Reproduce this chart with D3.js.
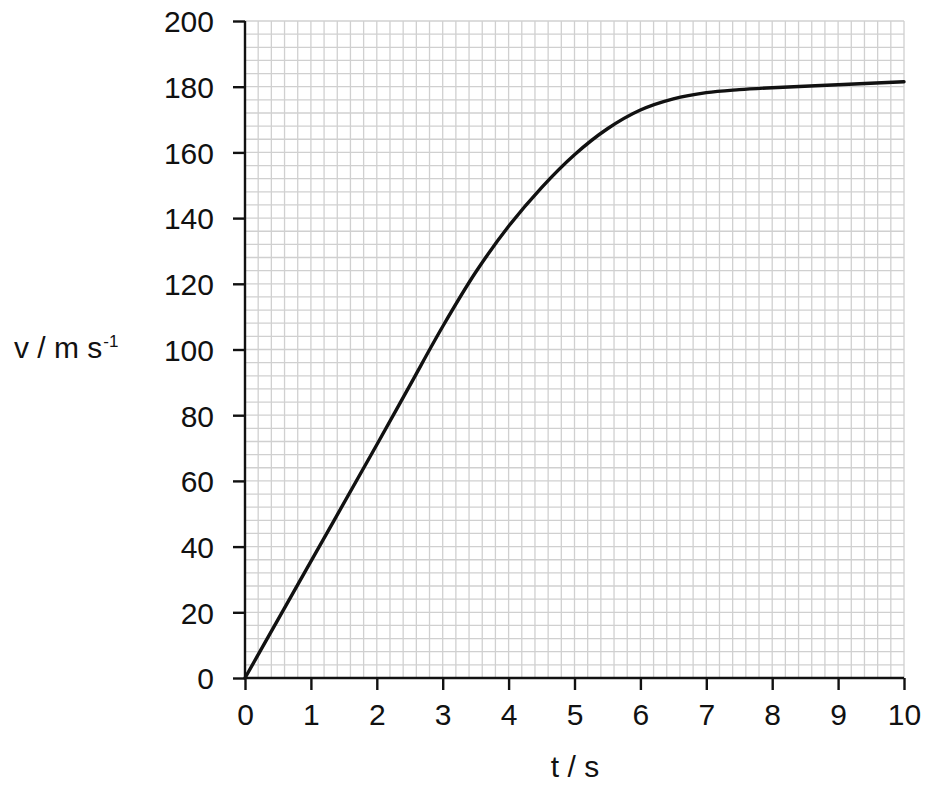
<!DOCTYPE html>
<html>
<head>
<meta charset="utf-8">
<script src="https://cdn.jsdelivr.net/npm/d3@7"></script>
<style>
  html, body { margin: 0; padding: 0; background: #fff; }
  svg { display: block; }
  text { font-family: "Liberation Sans", Arial, Helvetica, sans-serif; fill: #111; }
</style>
</head>
<body>
<svg id="chart" width="926" height="786"></svg>
<script>
// ---- data ----
const timeValues = [0, 1, 2, 2.5, 3, 3.5, 4, 4.5, 5, 5.5, 6, 6.5, 7, 7.5, 8, 9, 10];
const speedValues = [0, 35.5, 71, 89, 107, 123.5, 137.5, 149.3, 159.3, 167.2, 172.9, 176.3, 178.2, 179.1, 179.7, 180.6, 181.5];
const xTicks = [0, 1, 2, 3, 4, 5, 6, 7, 8, 9, 10];
const yTicks = [0, 20, 40, 60, 80, 100, 120, 140, 160, 180, 200];
const xLabel = "t / s";
const yLabelMain = "v / m s";
const yLabelSup = "-1";

// ---- layout ----
const svg = d3.select("#chart");
const x = d3.scaleLinear().domain([0, 10]).range([245, 904]);
const y = d3.scaleLinear().domain([0, 200]).range([678, 21]);
const FS = 30;

// grid (0.2 s by 4 m/s)
const xGrid = d3.range(0, 10.0001, 0.2);
const yGrid = d3.range(0, 200.0001, 4);
const grid = svg.append("g").attr("stroke", "#d0d0d0").attr("stroke-width", 1.3);
grid.selectAll("line.v").data(xGrid).join("line")
  .attr("x1", d => x(d)).attr("x2", d => x(d))
  .attr("y1", y(0)).attr("y2", y(200));
grid.selectAll("line.h").data(yGrid).join("line")
  .attr("x1", x(0)).attr("x2", x(10))
  .attr("y1", d => y(d)).attr("y2", d => y(d));

// axes
const xAxis = d3.axisBottom(x).tickValues(xTicks).tickSize(12).tickPadding(14).tickFormat(d3.format("d"));
const yAxis = d3.axisLeft(y).tickValues(yTicks).tickSize(12).tickPadding(19).tickFormat(d3.format("d"));

const gx = svg.append("g").attr("transform", `translate(0,${y(0)})`).call(xAxis);
const gy = svg.append("g").attr("transform", `translate(${x(0)},0)`).call(yAxis);

[gx, gy].forEach(g => {
  g.select(".domain").attr("stroke", "#111").attr("stroke-width", 2.4);
  g.selectAll(".tick line").attr("stroke", "#111").attr("stroke-width", 2.4);
  g.selectAll(".tick text").attr("font-size", FS).attr("fill", "#111")
    .attr("font-family", "'Liberation Sans', Arial, sans-serif");
});
gx.select(".domain").attr("d", `M${x(0)},0H${x(10)}`);
gy.select(".domain").attr("d", `M0,${y(0)}V${y(200)}`);
gx.selectAll(".tick text").attr("dy", "0.71em");
gy.selectAll(".tick text").attr("dy", "0.36em");

// curve
const pts = timeValues.map((t, i) => [t, speedValues[i]]);
const line = d3.line().x(d => x(d[0])).y(d => y(d[1])).curve(d3.curveCatmullRom.alpha(0.5));
svg.append("path").datum(pts)
  .attr("d", line)
  .attr("fill", "none")
  .attr("stroke", "#111")
  .attr("stroke-width", 3.4)
  .attr("stroke-linecap", "round")
  .attr("stroke-linejoin", "round");

// axis titles
svg.append("text").attr("x", 575).attr("y", 777).attr("text-anchor", "middle")
  .attr("font-size", FS).attr("fill", "#111").text(xLabel);

const yt = svg.append("text").attr("x", 14).attr("y", 358).attr("font-size", FS).attr("fill", "#111");
yt.append("tspan").text(yLabelMain);
yt.append("tspan").attr("font-size", 17).attr("dx", 1).attr("dy", -11).text(yLabelSup);
</script>
</body>
</html>
